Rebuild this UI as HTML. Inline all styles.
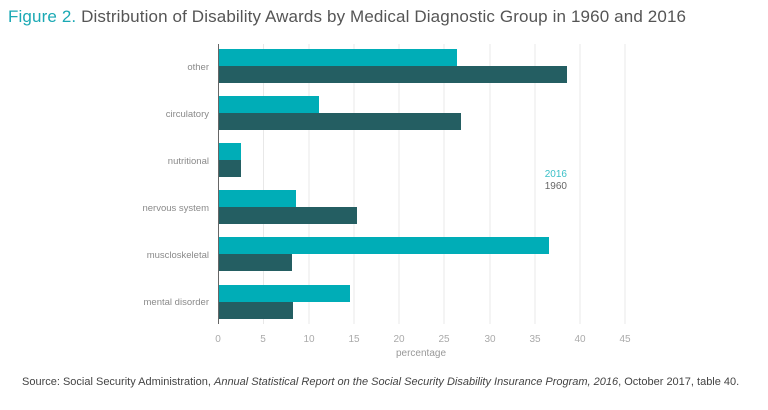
<!DOCTYPE html><html><head><style>body{margin:0;background:#fff;width:768px;height:405px;overflow:hidden;font-family:"Liberation Sans",sans-serif}</style></head><body>
<svg width="768" height="405" xmlns="http://www.w3.org/2000/svg" font-family="Liberation Sans, sans-serif">
<text x="8" y="22" font-size="17" fill="#555" textLength="678" lengthAdjust="spacing"><tspan fill="#1aa9b4">Figure 2.</tspan> Distribution of Disability Awards by Medical Diagnostic Group in 1960 and 2016</text>
<g stroke="#e8e8e8" stroke-width="1">
<line x1="263.5" y1="44" x2="263.5" y2="324"/><line x1="309" y1="44" x2="309" y2="324"/><line x1="354" y1="44" x2="354" y2="324"/><line x1="399" y1="44" x2="399" y2="324"/><line x1="444" y1="44" x2="444" y2="324"/><line x1="490" y1="44" x2="490" y2="324"/><line x1="535" y1="44" x2="535" y2="324"/><line x1="580" y1="44" x2="580" y2="324"/><line x1="625" y1="44" x2="625" y2="324"/>
</g>
<g fill="#00adb7">
<rect x="218" y="49" width="239" height="17"/><rect x="218" y="96" width="101" height="17"/><rect x="218" y="143" width="23" height="17"/><rect x="218" y="190" width="78" height="17"/><rect x="218" y="237" width="331" height="17"/><rect x="218" y="285" width="132" height="17"/>
</g>
<g fill="#245e62">
<rect x="218" y="66" width="349" height="17"/><rect x="218" y="113" width="243" height="17"/><rect x="218" y="160" width="23" height="17"/><rect x="218" y="207" width="139" height="17"/><rect x="218" y="254" width="74" height="17"/><rect x="218" y="302" width="75" height="17"/>
</g>
<line x1="218.5" y1="44" x2="218.5" y2="324" stroke="#666" stroke-width="1"/>
<g font-size="9.5" fill="#8a8a8a" text-anchor="end">
<text x="209" y="70">other</text><text x="209" y="117">circulatory</text><text x="209" y="164">nutritional</text><text x="209" y="211">nervous system</text><text x="209" y="258">muscloskeletal</text><text x="209" y="305">mental disorder</text>
</g>
<g font-size="10" fill="#aaa" text-anchor="middle">
<text x="218" y="342">0</text><text x="263" y="342">5</text><text x="309" y="342">10</text><text x="354" y="342">15</text><text x="399" y="342">20</text><text x="444" y="342">25</text><text x="490" y="342">30</text><text x="535" y="342">35</text><text x="580" y="342">40</text><text x="625" y="342">45</text>
<text x="421" y="356" fill="#999">percentage</text>
</g>
<text x="567" y="177" font-size="10" fill="#3cc0c8" text-anchor="end">2016</text>
<text x="567" y="189" font-size="10" fill="#666" text-anchor="end">1960</text>
<text x="22" y="385" font-size="11" fill="#444">Source: Social Security Administration, <tspan font-style="italic">Annual Statistical Report on the Social Security Disability Insurance Program, 2016</tspan>, October 2017, table 40.</text>
</svg></body></html>
